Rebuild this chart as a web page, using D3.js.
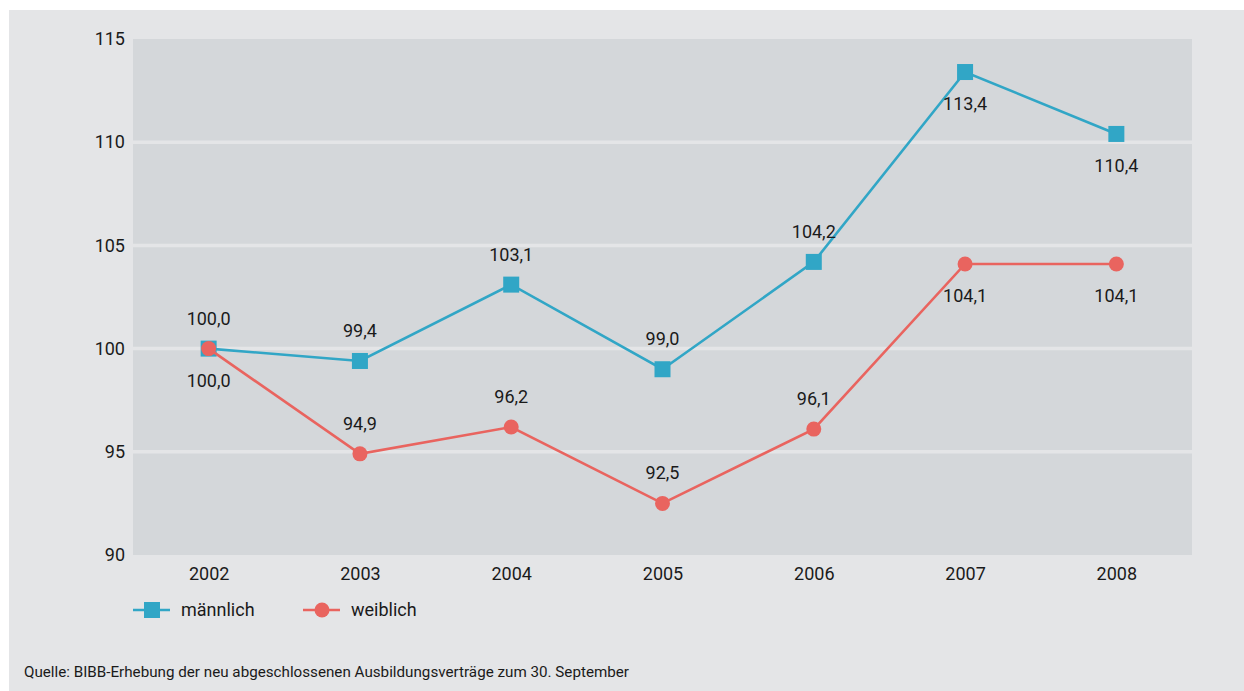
<!DOCTYPE html>
<html>
<head>
<meta charset="utf-8">
<script src="https://cdn.jsdelivr.net/npm/d3@7"></script>
<style>
  html, body { margin: 0; padding: 0; background: #ffffff; }
  svg { display: block; }
  text { font-family: Roboto, "Liberation Sans Narrow", "DejaVu Sans Condensed", sans-serif; fill: #1a1a1a; }
</style>
</head>
<body>
<svg id="chart" width="1244" height="691"></svg>
<script>
// Neu abgeschlossene Ausbildungsverträge, Index 2002 = 100
const years = ["2002", "2003", "2004", "2005", "2006", "2007", "2008"];
const maleValues = [100.0, 99.4, 103.1, 99.0, 104.2, 113.4, 110.4];
const femaleValues = [100.0, 94.9, 96.2, 92.5, 96.1, 104.1, 104.1];
// label placement: true = above the marker
const maleLabelAbove = [true, true, true, true, true, false, false];
const femaleLabelAbove = [false, true, true, true, true, false, false];
const yTicks = [90, 95, 100, 105, 110, 115];
const seriesNames = ["männlich", "weiblich"];
const sourceNote = "Quelle: BIBB-Erhebung der neu abgeschlossenen Ausbildungsverträge zum 30. September";

const W = 1244, H = 691;
const plot = { left: 133, right: 1192, top: 39, bottom: 555 };
const blue = "#31a6c6", red = "#e9645f";
const fmt = v => v.toFixed(1).replace(".", ",");

const svg = d3.select("#chart");

// panel background
svg.append("rect").attr("x", 9).attr("y", 10).attr("width", W - 9).attr("height", H - 10)
  .attr("fill", "#e4e5e7");
svg.append("rect").attr("x", plot.left).attr("y", plot.top)
  .attr("width", plot.right - plot.left).attr("height", plot.bottom - plot.top)
  .attr("fill", "#d4d7da");

const x = d3.scalePoint().domain(years).range([plot.left, plot.right]).padding(0.5);
const y = d3.scaleLinear().domain([90, 115]).range([plot.bottom, plot.top]);

// horizontal gridlines
svg.append("g").selectAll("line")
  .data(yTicks.filter(t => t > 90 && t < 115))
  .join("line")
  .attr("x1", plot.left).attr("x2", plot.right)
  .attr("y1", d => y(d)).attr("y2", d => y(d))
  .attr("stroke", "#e4e5e7").attr("stroke-width", 3.5);

// y axis
const yAxis = svg.append("g").attr("transform", `translate(${plot.left},0)`)
  .call(d3.axisLeft(y).tickValues(yTicks).tickSize(0).tickPadding(8));
yAxis.select(".domain").remove();
yAxis.selectAll("text").attr("font-size", 18).attr("fill", "#1a1a1a")
  .style("font-family", "Roboto, sans-serif");

// x axis
const xAxis = svg.append("g").attr("transform", `translate(0,${plot.bottom})`)
  .call(d3.axisBottom(x).tickSize(0).tickPadding(12));
xAxis.select(".domain").remove();
xAxis.selectAll("text").attr("font-size", 18).attr("fill", "#1a1a1a")
  .style("font-family", "Roboto, sans-serif");

const line = d3.line().x((d, i) => x(years[i])).y(d => y(d));

function drawSeries(values, color, shape) {
  const g = svg.append("g");
  g.append("path").datum(values).attr("d", line)
    .attr("fill", "none").attr("stroke", color).attr("stroke-width", 2.6);
  if (shape === "square") {
    g.selectAll("rect").data(values).join("rect")
      .attr("x", (d, i) => x(years[i]) - 8).attr("y", d => y(d) - 8)
      .attr("width", 16).attr("height", 16).attr("fill", color);
  } else {
    g.selectAll("circle").data(values).join("circle")
      .attr("cx", (d, i) => x(years[i])).attr("cy", d => y(d))
      .attr("r", 7.5).attr("fill", color);
  }
  return g;
}

function drawLabels(values, above) {
  svg.append("g").selectAll("text").data(values).join("text")
    .attr("x", (d, i) => x(years[i]))
    .attr("y", (d, i) => above[i] ? y(d) - 24 : y(d) + 38)
    .attr("text-anchor", "middle").attr("font-size", 18)
    .text(d => fmt(d));
}

drawSeries(maleValues, blue, "square");
drawSeries(femaleValues, red, "circle");
drawLabels(maleValues, maleLabelAbove);
drawLabels(femaleValues, femaleLabelAbove);

// legend
const legend = svg.append("g").attr("transform", "translate(0,610)");
const legendItems = [
  { name: seriesNames[0], color: blue, shape: "square", x0: 133 },
  { name: seriesNames[1], color: red, shape: "circle", x0: 303 }
];
legendItems.forEach(it => {
  legend.append("line").attr("x1", it.x0).attr("x2", it.x0 + 37).attr("y1", 0).attr("y2", 0)
    .attr("stroke", it.color).attr("stroke-width", 2.6);
  if (it.shape === "square") {
    legend.append("rect").attr("x", it.x0 + 11).attr("y", -8).attr("width", 16).attr("height", 16)
      .attr("fill", it.color);
  } else {
    legend.append("circle").attr("cx", it.x0 + 19).attr("cy", 0).attr("r", 7.5).attr("fill", it.color);
  }
  legend.append("text").attr("x", it.x0 + 48).attr("y", 0).attr("dy", "0.35em")
    .attr("font-size", 18).text(it.name);
});

// source line
svg.append("text").attr("x", 24).attr("y", 677).attr("font-size", 15.2)
  .text(sourceNote);
</script>
</body>
</html>
